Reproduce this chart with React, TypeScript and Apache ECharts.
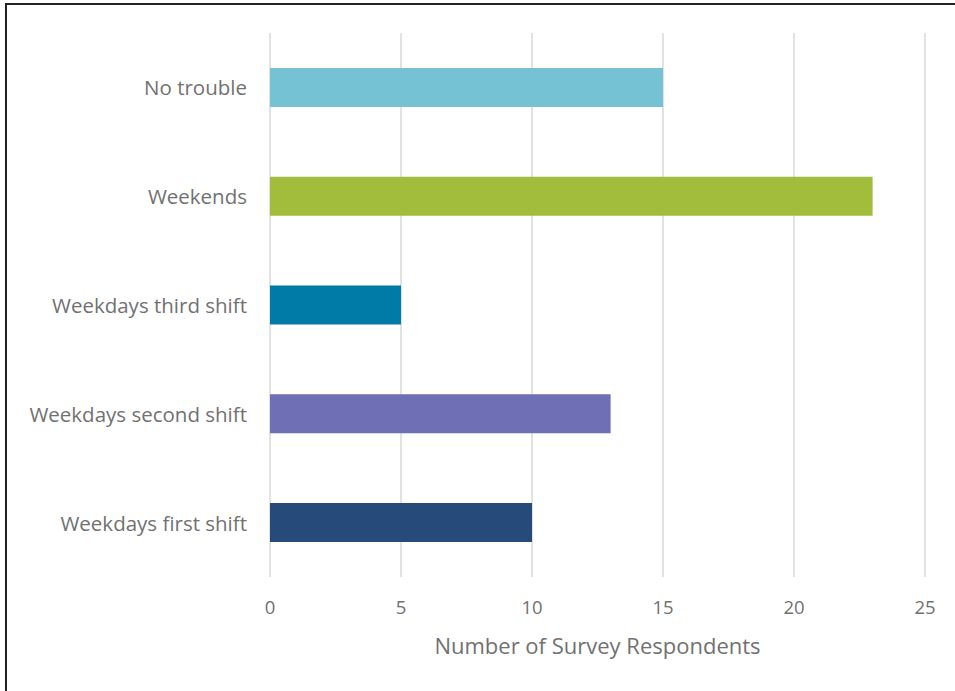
import React, { useEffect, useRef } from "react";
import * as echarts from "echarts";

const categories = [
  "Weekdays first shift",
  "Weekdays second shift",
  "Weekdays third shift",
  "Weekends",
  "No trouble",
];
const values = [10, 13, 5, 23, 15];
const colors = ["#264B7A", "#6E6FB4", "#007BA7", "#A2BC3C", "#74C2D4"];
const xTicks = [0, 5, 10, 15, 20, 25];
const xAxisTitle = "Number of Survey Respondents";

export default function App() {
  const ref = useRef<HTMLDivElement>(null);
  useEffect(() => {
    document.body.style.margin = "0";
    const chart = echarts.init(ref.current!, null, { renderer: "svg" });
    chart.setOption({
      animation: false,
      textStyle: { fontFamily: "Open Sans" },
      graphic: [
        {
          type: "rect",
          shape: { x: 6, y: 4, width: 1000, height: 800 },
          style: { fill: "none", stroke: "#222", lineWidth: 2 },
          silent: true,
        },
      ],
      grid: { left: 270, right: 30, top: 33, bottom: 114 },
      xAxis: {
        type: "value",
        min: xTicks[0],
        max: xTicks[xTicks.length - 1],
        interval: 5,
        name: xAxisTitle,
        nameLocation: "middle",
        nameGap: 57,
        nameTextStyle: { fontSize: 22, color: "#717171", fontFamily: "Open Sans" },
        axisLine: { show: false },
        axisTick: { show: false },
        axisLabel: { fontSize: 18.5, color: "#717171", margin: 20, fontFamily: "Open Sans" },
        splitLine: { show: true, lineStyle: { color: "#D9D9D9", width: 1.5 } },
      },
      yAxis: {
        type: "category",
        data: categories,
        axisLine: { show: false },
        axisTick: { show: false },
        axisLabel: { fontSize: 20.5, color: "#717171", margin: 23, fontFamily: "Open Sans" },
      },
      series: [
        {
          type: "bar",
          barWidth: 39,
          data: values.map((v, i) => ({ value: v, itemStyle: { color: colors[i] } })),
        },
      ],
    });
    return () => chart.dispose();
  }, []);
  return <div ref={ref} style={{ width: 955, height: 691 }} />;
}
